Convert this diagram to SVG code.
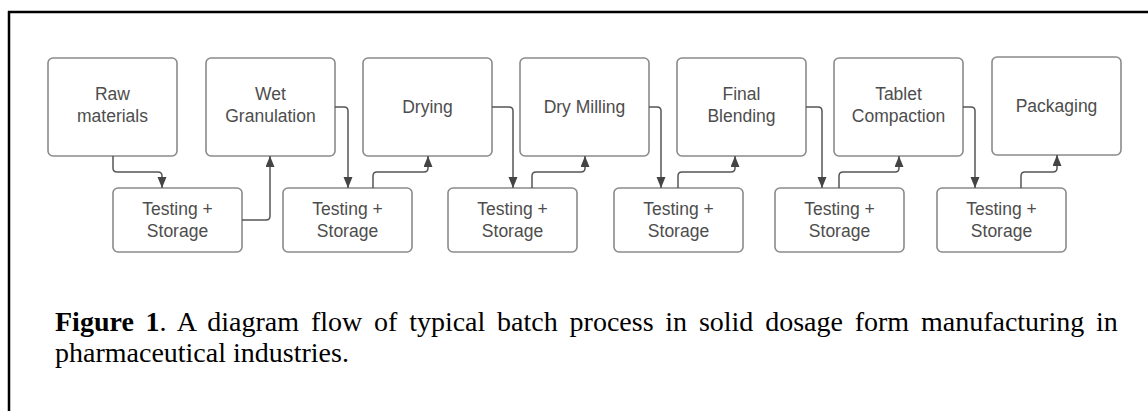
<svg xmlns="http://www.w3.org/2000/svg" width="1148" height="411" viewBox="0 0 1148 411">
  <style>
    .box { fill: #ffffff; stroke: #8a8a8a; stroke-width: 1.6; }
    .lbl { font-family: "Liberation Sans", Arial, sans-serif; font-size: 17.5px; fill: #4d4d4d; text-anchor: middle; }
    .wire { fill: none; stroke: #555555; stroke-width: 1.5; marker-end: url(#arrow); }
    .cap { font-family: "Liberation Serif", "Times New Roman", serif; font-size: 28px; fill: #000000; }
  </style>
  <defs>
    <marker id="arrow" markerUnits="userSpaceOnUse" markerWidth="12" markerHeight="10" refX="11" refY="4.5" orient="auto">
      <path d="M0,0 L11,4.5 L0,9 Z" fill="#444444"/>
    </marker>
  </defs>

  <rect width="1148" height="411" fill="#ffffff"/>

  <!-- frame -->
  <g id="frame" stroke="#000000" stroke-width="2.5" fill="none">
    <line x1="8" y1="12" x2="1148" y2="12"/>
    <line x1="9" y1="11" x2="9" y2="411"/>
  </g>

  <!-- process steps -->
  <g id="raw-materials">
    <rect class="box" x="48" y="58" width="129" height="98" rx="5"/>
    <text class="lbl" x="112.5" y="100">Raw</text>
    <text class="lbl" x="112.5" y="122">materials</text>
  </g>
  <g id="wet-granulation">
    <rect class="box" x="206" y="58" width="129" height="98" rx="5"/>
    <text class="lbl" x="270.5" y="100">Wet</text>
    <text class="lbl" x="270.5" y="122">Granulation</text>
  </g>
  <g id="drying">
    <rect class="box" x="363" y="58" width="129" height="98" rx="5"/>
    <text class="lbl" x="427.5" y="113">Drying</text>
  </g>
  <g id="dry-milling">
    <rect class="box" x="520" y="58" width="129" height="98" rx="5"/>
    <text class="lbl" x="584.5" y="113">Dry Milling</text>
  </g>
  <g id="final-blending">
    <rect class="box" x="677" y="58" width="129" height="98" rx="5"/>
    <text class="lbl" x="741.5" y="100">Final</text>
    <text class="lbl" x="741.5" y="122">Blending</text>
  </g>
  <g id="tablet-compaction">
    <rect class="box" x="834" y="58" width="129" height="98" rx="5"/>
    <text class="lbl" x="898.5" y="100">Tablet</text>
    <text class="lbl" x="898.5" y="122">Compaction</text>
  </g>
  <g id="packaging">
    <rect class="box" x="992" y="57" width="129" height="98" rx="5"/>
    <text class="lbl" x="1056.5" y="112">Packaging</text>
  </g>

  <!-- testing + storage stations -->
  <g id="ts-1">
    <rect class="box" x="113" y="188" width="129" height="64" rx="5"/>
    <text class="lbl" x="177.5" y="215">Testing +</text>
    <text class="lbl" x="177.5" y="237">Storage</text>
  </g>
  <g id="ts-2">
    <rect class="box" x="283" y="188" width="129" height="64" rx="5"/>
    <text class="lbl" x="347.5" y="215">Testing +</text>
    <text class="lbl" x="347.5" y="237">Storage</text>
  </g>
  <g id="ts-3">
    <rect class="box" x="448" y="188" width="129" height="64" rx="5"/>
    <text class="lbl" x="512.5" y="215">Testing +</text>
    <text class="lbl" x="512.5" y="237">Storage</text>
  </g>
  <g id="ts-4">
    <rect class="box" x="614" y="188" width="129" height="64" rx="5"/>
    <text class="lbl" x="678.5" y="215">Testing +</text>
    <text class="lbl" x="678.5" y="237">Storage</text>
  </g>
  <g id="ts-5">
    <rect class="box" x="775" y="188" width="129" height="64" rx="5"/>
    <text class="lbl" x="839.5" y="215">Testing +</text>
    <text class="lbl" x="839.5" y="237">Storage</text>
  </g>
  <g id="ts-6">
    <rect class="box" x="937" y="188" width="129" height="64" rx="5"/>
    <text class="lbl" x="1001.5" y="215">Testing +</text>
    <text class="lbl" x="1001.5" y="237">Storage</text>
  </g>

  <!-- connectors -->
  <g id="connectors">
    <path class="wire" d="M113,156 V168 Q113,172 117,172 H158 Q162,172 162,176 V188"/>
    <path class="wire" d="M242,220 H266 Q270,220 270,216 V156"/>
    <path class="wire" d="M335,107 H344 Q348,107 348,111 V188"/>
    <path class="wire" d="M373,188 V176 Q373,172 377,172 H424 Q428,172 428,168 V156"/>
    <path class="wire" d="M492,107 H509 Q513,107 513,111 V188"/>
    <path class="wire" d="M532,188 V176 Q532,172 536,172 H581 Q585,172 585,168 V156"/>
    <path class="wire" d="M649,107 H657 Q661,107 661,111 V188"/>
    <path class="wire" d="M678,188 V176 Q678,172 682,172 H731 Q735,172 735,168 V156"/>
    <path class="wire" d="M806,107 H818 Q822,107 822,111 V188"/>
    <path class="wire" d="M839,188 V176 Q839,172 843,172 H895 Q899,172 899,168 V156"/>
    <path class="wire" d="M963,107 H971 Q975,107 975,111 V188"/>
    <path class="wire" d="M1021,188 V176 Q1021,172 1025,172 H1053 Q1057,172 1057,168 V155"/>
  </g>

  <!-- caption -->
  <g id="caption">
    <text class="cap" x="55" y="331" word-spacing="4.8"><tspan font-weight="bold">Figure 1</tspan>. A diagram flow of typical batch process in solid dosage form manufacturing in</text>
    <text class="cap" x="55" y="362">pharmaceutical industries.</text>
  </g>
</svg>
